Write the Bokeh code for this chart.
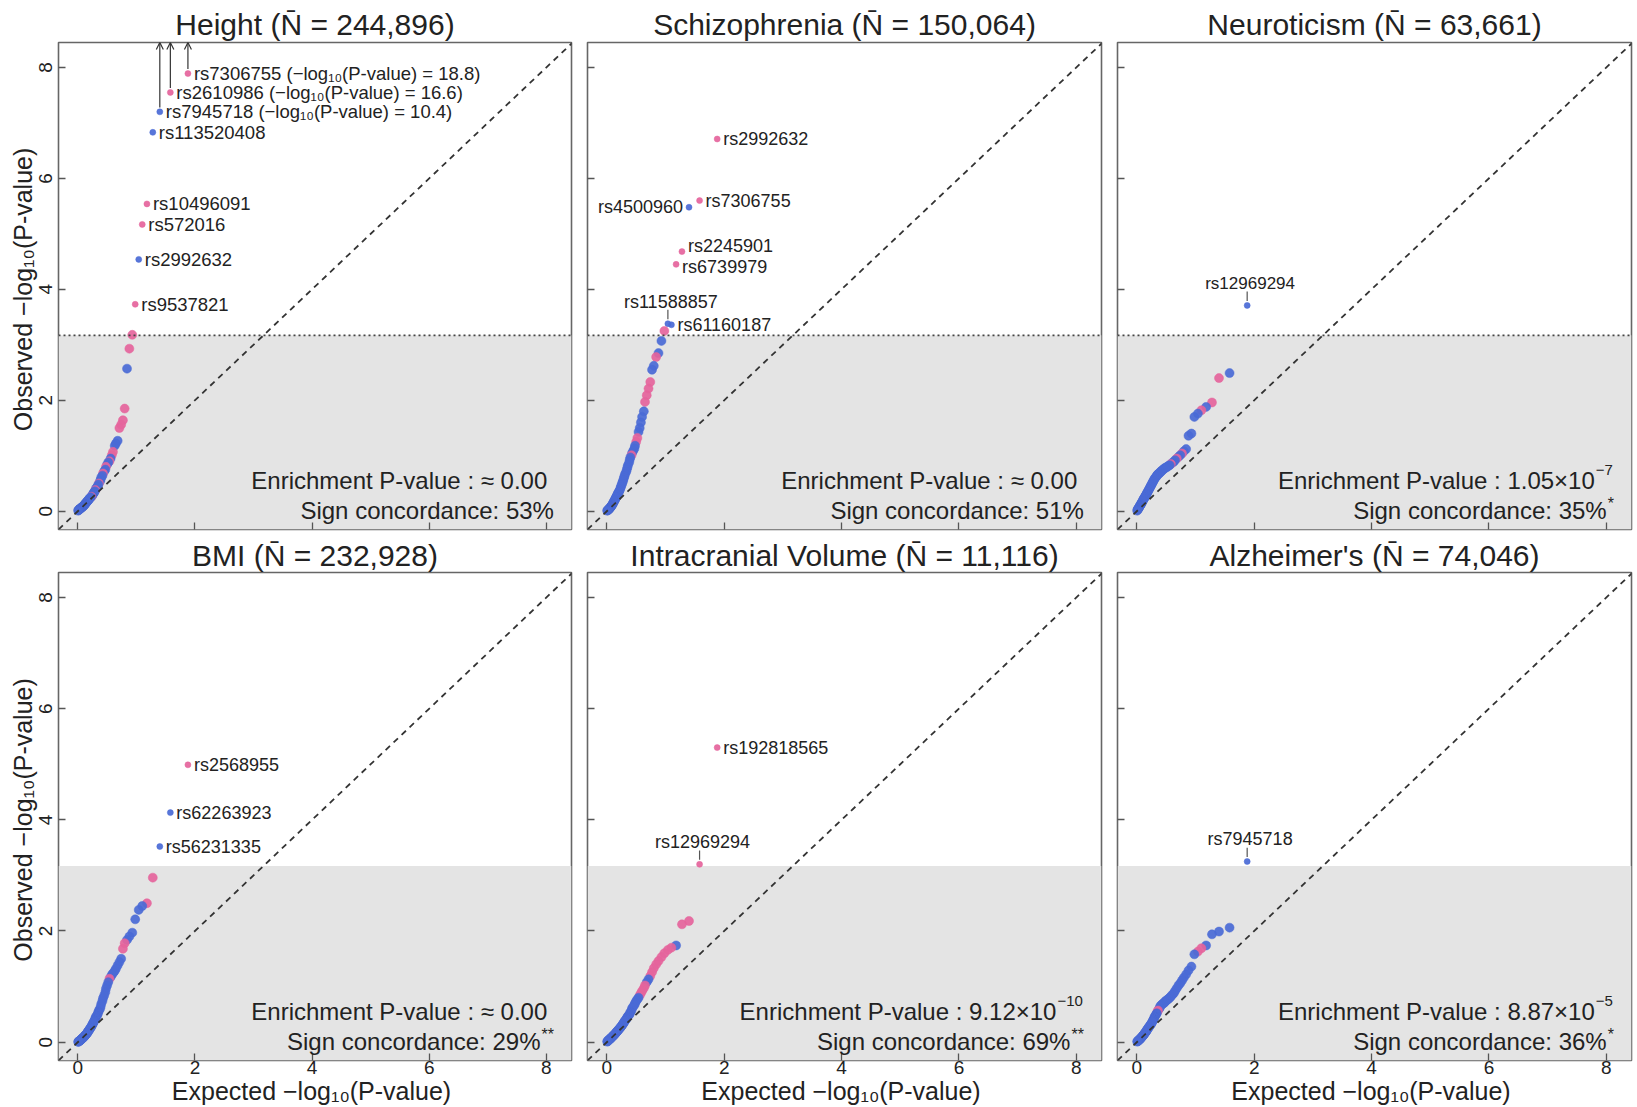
from bokeh.plotting import figure
from bokeh.layouts import column, row
from bokeh.models import (ColumnDataSource, FixedTicker, BoxAnnotation, Span, Slope,
                          Label, Range1d, Arrow, OpenHead)
from bokeh.embed import file_html
from bokeh.resources import INLINE
from bokeh.core.properties import value

FONT = "Liberation Sans"
PINK = "#E5649C"
BLUE = "#4A6AD6"
INK = "#222222"

# ---------------- data ----------------
expected = [1.88, 1.58, 1.40, 1.28, 1.18, 1.10, 1.04, 0.98, 0.93, 0.88,
            0.84, 0.80, 0.77, 0.74, 0.71, 0.68, 0.65, 0.63, 0.60, 0.58,
            0.56, 0.54, 0.52, 0.50, 0.48, 0.47, 0.45, 0.43, 0.42, 0.40,
            0.39, 0.38, 0.36, 0.35, 0.34, 0.33, 0.31, 0.30, 0.29, 0.28,
            0.27, 0.26, 0.25, 0.24, 0.23, 0.22, 0.21, 0.20, 0.19, 0.18,
            0.17, 0.165, 0.157, 0.148, 0.14, 0.133, 0.125, 0.117, 0.11, 0.103,
            0.095, 0.088, 0.081, 0.075, 0.068, 0.061, 0.055, 0.048, 0.042, 0.036,
            0.03, 0.023, 0.017, 0.012, 0.006]

TAIL = "BBBBBBBBBBBBBBBBBBBBBBBBBBBBBB"

height_obs = [7.89, 7.55, 7.20, 6.83, 5.54, 5.17, 4.54, 3.73, 3.18, 2.93,
              2.57, 1.85, 1.64, 1.56, 1.50, 1.27, 1.22, 1.18, 1.07, 1.01,
              0.95, 0.90, 0.88, 0.84, 0.80, 0.75, 0.72, 0.68, 0.64, 0.61,
              0.57, 0.54, 0.50, 0.48, 0.45, 0.43, 0.41, 0.38, 0.36, 0.34,
              0.33, 0.31, 0.29, 0.27, 0.26, 0.25, 0.24, 0.23, 0.21, 0.20,
              0.19, 0.18, 0.17, 0.16, 0.15, 0.14, 0.13, 0.12, 0.11, 0.10,
              0.095, 0.09, 0.08, 0.075, 0.07, 0.065, 0.06, 0.05, 0.045, 0.04,
              0.035, 0.03, 0.025, 0.02, 0.01]
height_cols = "PPBBPPBPPPBPPPPBBBPPBPBBPBBPBB" + "BBPBBBBPBBBBBBP" + TAIL
height_labels = ["rs7306755", "rs2610986", "rs7945718", "rs113520408",
                 "rs10496091", "rs572016", "rs2992632", "rs9537821"]
height_modes = ["r", "r", "r", "r", "r", "r", "r", "r"]
height_true = [18.8, 16.6, 10.4]

scz_obs = [6.71, 5.60, 5.48, 4.68, 4.45, 3.36, 3.38, 3.25, 3.07, 2.85,
           2.78, 2.62, 2.55, 2.33, 2.21, 2.09, 1.97, 1.80, 1.70, 1.60,
           1.50, 1.43, 1.32, 1.25, 1.18, 1.13, 1.09, 1.05, 1.01, 0.97,
           0.93, 0.88, 0.83, 0.79, 0.75, 0.71, 0.67, 0.63, 0.60, 0.56,
           0.53, 0.50, 0.47, 0.44, 0.41, 0.38, 0.36, 0.34, 0.32, 0.30,
           0.28, 0.26, 0.25, 0.23, 0.21, 0.20, 0.18, 0.17, 0.15, 0.14,
           0.12, 0.11, 0.10, 0.09, 0.08, 0.07, 0.06, 0.05, 0.045, 0.04,
           0.03, 0.025, 0.02, 0.015, 0.01]
scz_cols = "PPBPPBBPBBPBBPPPPBBBBBPPBBBBPB" + "BBBBBBBBBBBBBBB" + TAIL
scz_labels = ["rs2992632", "rs7306755", "rs4500960", "rs2245901",
              "rs6739979", "rs61160187", "rs11588857"]
scz_modes = ["r", "r", "l", "r", "r", "r", "a"]

neuro_obs = [3.71, 2.49, 2.40, 1.96, 1.88, 1.82, 1.76, 1.70, 1.40, 1.36,
             1.12, 1.08, 1.04, 1.01, 0.98, 0.95, 0.92, 0.89, 0.87, 0.85,
             0.83, 0.82, 0.80, 0.79, 0.78, 0.77, 0.75, 0.74, 0.72, 0.71,
             0.69, 0.68, 0.67, 0.655, 0.64, 0.62, 0.60, 0.58, 0.56, 0.54,
             0.52, 0.50, 0.48, 0.46, 0.44, 0.42, 0.40, 0.38, 0.36, 0.34,
             0.32, 0.31, 0.29, 0.28, 0.26, 0.25, 0.23, 0.22, 0.21, 0.19,
             0.18, 0.16, 0.15, 0.14, 0.12, 0.11, 0.10, 0.09, 0.08, 0.065,
             0.055, 0.045, 0.035, 0.025, 0.01]
neuro_cols = "BBPPBPBBBBBBPBBPBBBPBBBBBBBBBB" + "BBBBBBBBBBBBBBB" + TAIL
neuro_labels = ["rs12969294"]
neuro_modes = ["a"]

bmi_obs = [4.99, 4.13, 3.52, 2.96, 2.50, 2.45, 2.38, 2.21, 1.97, 1.90,
           1.84, 1.78, 1.68, 1.50, 1.44, 1.38, 1.32, 1.28, 1.24, 1.21,
           1.17, 1.14, 1.08, 1.02, 0.96, 0.90, 0.84, 0.79, 0.74, 0.69,
           0.64, 0.60, 0.57, 0.54, 0.51, 0.48, 0.46, 0.43, 0.40, 0.38,
           0.36, 0.34, 0.32, 0.30, 0.28, 0.26, 0.25, 0.23, 0.21, 0.20,
           0.19, 0.17, 0.16, 0.15, 0.14, 0.13, 0.12, 0.11, 0.10, 0.09,
           0.085, 0.08, 0.07, 0.065, 0.06, 0.05, 0.045, 0.04, 0.035, 0.03,
           0.025, 0.02, 0.015, 0.01, 0.005]
bmi_cols = "PBBPPBBBBBBPPBBBBBBBBPBBBBBBBB" + "BBBBBBBBBBBBBBB" + TAIL
bmi_labels = ["rs2568955", "rs62263923", "rs56231335"]
bmi_modes = ["r", "r", "r"]

icv_obs = [5.30, 3.20, 2.18, 2.12, 1.74, 1.70, 1.66, 1.60, 1.53, 1.46,
           1.40, 1.33, 1.26, 1.19, 1.13, 1.08, 1.02, 0.97, 0.92, 0.88,
           0.84, 0.80, 0.77, 0.74, 0.70, 0.67, 0.64, 0.61, 0.57, 0.54,
           0.51, 0.49, 0.47, 0.45, 0.43, 0.41, 0.39, 0.37, 0.35, 0.335,
           0.32, 0.305, 0.29, 0.275, 0.26, 0.25, 0.24, 0.225, 0.21, 0.20,
           0.19, 0.18, 0.17, 0.16, 0.15, 0.14, 0.13, 0.125, 0.115, 0.11,
           0.10, 0.095, 0.085, 0.08, 0.07, 0.065, 0.06, 0.05, 0.045, 0.04,
           0.035, 0.03, 0.02, 0.015, 0.01]
icv_cols = "PPPPBPPPPPPPPPBBPPPPPBBBBBBBBB" + "BBBBBBBBBBBBBBB" + TAIL
icv_labels = ["rs192818565", "rs12969294"]
icv_modes = ["r", "a"]

alz_obs = [3.25, 2.06, 1.99, 1.94, 1.74, 1.69, 1.63, 1.58, 1.36, 1.29,
           1.22, 1.16, 1.11, 1.06, 1.02, 0.97, 0.92, 0.88, 0.85, 0.82,
           0.80, 0.78, 0.76, 0.75, 0.73, 0.71, 0.70, 0.68, 0.67, 0.65,
           0.62, 0.60, 0.57, 0.55, 0.52, 0.50, 0.47, 0.45, 0.42, 0.40,
           0.38, 0.36, 0.34, 0.32, 0.31, 0.29, 0.28, 0.26, 0.25, 0.23,
           0.22, 0.20, 0.19, 0.18, 0.17, 0.155, 0.145, 0.135, 0.125, 0.115,
           0.105, 0.095, 0.09, 0.08, 0.07, 0.065, 0.055, 0.05, 0.045, 0.04,
           0.03, 0.025, 0.02, 0.015, 0.01]
alz_cols = "BBBBBPPBBBBBBBBBBBBBBBBBBBBBBB" + "BBPPBBBBBBBBBBB" + TAIL
alz_labels = ["rs7945718"]
alz_modes = ["a"]

titles = ["Height (N\u0304 = 244,896)", "Schizophrenia (N\u0304 = 150,064)",
          "Neuroticism (N\u0304 = 63,661)", "BMI (N\u0304 = 232,928)",
          "Intracranial Volume (N\u0304 = 11,116)", "Alzheimer's (N\u0304 = 74,046)"]
enrich_main = ["Enrichment P-value :  \u2248 0.00", "Enrichment P-value :  \u2248 0.00",
               "Enrichment P-value : 1.05\u00d710", "Enrichment P-value :  \u2248 0.00",
               "Enrichment P-value : 9.12\u00d710", "Enrichment P-value : 8.87\u00d710"]
enrich_exp = ["", "", "\u22127", "", "\u221210", "\u22125"]
sign_main = ["Sign concordance: 53%", "Sign concordance: 51%", "Sign concordance: 35%",
             "Sign concordance: 29%", "Sign concordance: 69%", "Sign concordance: 36%"]
sign_stars = ["", "", "*", "**", "**", "*"]

ticks = [0, 2, 4, 6, 8]
THRESH = 3.17
XR = (-0.33, 8.43)
YR = (-0.33, 8.45)

obs_list = [height_obs, scz_obs, neuro_obs, bmi_obs, icv_obs, alz_obs]
col_list = [height_cols, scz_cols, neuro_cols, bmi_cols, icv_cols, alz_cols]
lab_list = [height_labels, scz_labels, neuro_labels, bmi_labels, icv_labels, alz_labels]
mode_list = [height_modes, scz_modes, neuro_modes, bmi_modes, icv_modes, alz_modes]
lab_sizes = ["18.5px", "18px", "17px", "18px", "18px", "18px"]
# small vertical nudges (data units) to keep close labels apart, as in the original
LABEL_NUDGE = {"rs2245901": 0.10, "rs6739979": -0.04}

widths = [579, 530, 528]
heights = [535, 572]
borders_lr = [(58, 8), (8, 8), (8, 6)]
borders_tb = [(42, 6), (37, 46)]

# approximate glyph advance widths (em) for sizing raised text
ADV = {"\u2212": 0.584, "*": 0.389}


def text_width(s, px):
    return sum(ADV.get(ch, 0.556) for ch in s) * px


def make_panel(k):
    r, c = divmod(k, 3)
    p = figure(width=widths[c], height=heights[r],
               x_range=Range1d(*XR), y_range=Range1d(*YR),
               output_backend="svg", toolbar_location=None,
               min_border_left=borders_lr[c][0], min_border_right=borders_lr[c][1],
               min_border_top=borders_tb[r][0], min_border_bottom=borders_tb[r][1],
               title=titles[k])
    p.background_fill_color = "white"
    p.border_fill_color = "white"
    p.grid.visible = False
    p.outline_line_color = "#666666"
    p.outline_line_width = 1.6

    p.title.align = "center"
    p.title.text_font = FONT
    p.title.text_font_size = "30px"
    p.title.text_font_style = "normal"
    p.title.text_color = INK
    p.title.standoff = 4 if r == 0 else 2

    for ax in (p.xaxis[0], p.yaxis[0]):
        ax.ticker = FixedTicker(ticks=ticks)
        ax.axis_line_color = None
        ax.major_tick_in = 7
        ax.major_tick_out = 0
        ax.major_tick_line_color = "#555555"
        ax.major_tick_line_width = 1.3
        ax.minor_tick_line_color = None
        ax.major_label_text_font = FONT
        ax.major_label_text_font_size = "19px"
        ax.major_label_text_color = INK
        ax.axis_label_text_font = FONT
        ax.axis_label_text_font_size = "25px"
        ax.axis_label_text_font_style = "normal"
        ax.axis_label_text_color = INK

    xa, ya = p.xaxis[0], p.yaxis[0]
    if r == 1:
        xa.axis_label = "Expected  \u2212log\u2081\u2080(P-value)"
        xa.major_label_standoff = 0
        xa.axis_label_standoff = 0
    else:
        xa.major_label_overrides = {t: "" for t in ticks}
        xa.major_label_text_font_size = "1px"
        xa.major_label_standoff = 0
    if c == 0:
        ya.axis_label = "Observed  \u2212log\u2081\u2080(P-value)"
        ya.major_label_orientation = "vertical"
        ya.major_label_standoff = 6
        ya.axis_label_standoff = 0
    else:
        ya.major_label_overrides = {t: "" for t in ticks}
        ya.major_label_text_font_size = "1px"
        ya.major_label_standoff = 0

    # shaded non-significant region, threshold line, diagonal
    p.add_layout(BoxAnnotation(top=THRESH, fill_color="#E4E4E4", fill_alpha=1.0,
                               line_color=None, level="underlay"))
    if r == 0:
        p.add_layout(Span(location=THRESH, dimension="width", line_color="#444444",
                          line_dash="2 3", line_width=1.6))
    p.add_layout(Slope(gradient=1, y_intercept=0, line_color="#333333",
                       line_dash="6 5", line_width=1.8))

    obs = obs_list[k]
    cols = col_list[k]
    labels = lab_list[k]
    modes = mode_list[k]
    nlab = len(labels)
    src = ColumnDataSource(dict(
        x=expected, y=obs,
        color=[PINK if ch == "P" else BLUE for ch in cols],
        size=[6 if i < nlab else 9 for i in range(len(obs))],
    ))
    p.scatter(x="x", y="y", size="size", fill_color="color", line_color="color",
              fill_alpha=0.92, line_alpha=0.5, source=src)

    # labels
    groups = {"r": dict(x=[], y=[], t=[]), "l": dict(x=[], y=[], t=[]), "a": dict(x=[], y=[], t=[])}
    seg = dict(x0=[], y0=[], x1=[], y1=[])
    for i, (name, m) in enumerate(zip(labels, modes)):
        xv, yv = expected[i], obs[i]
        txt = name
        if k == 0 and i < len(height_true):
            txt = f"{name} (\u2212log\u2081\u2080(P-value) = {height_true[i]})"
            p.add_layout(Arrow(end=OpenHead(size=7, line_color="#333333", line_width=1.2),
                               x_start=xv, y_start=yv + 0.08, x_end=xv, y_end=YR[1],
                               line_color="#333333", line_width=1.2))
        if m == "a":
            groups[m]["x"].append(xv + 0.05)
            groups[m]["y"].append(yv + 0.40)
            seg["x0"].append(xv)
            seg["x1"].append(xv)
            seg["y0"].append(yv + 0.08)
            seg["y1"].append(yv + 0.25)
        else:
            groups[m]["x"].append(xv)
            groups[m]["y"].append(yv + LABEL_NUDGE.get(name, 0.0))
        groups[m]["t"].append(txt)

    common = dict(text_font=value(FONT), text_font_size=lab_sizes[k], text_color=INK,
                  text_baseline="middle")
    if groups["r"]["t"]:
        p.text(x=groups["r"]["x"], y=groups["r"]["y"], text=groups["r"]["t"],
               x_offset=6, text_align="left", **common)
    if groups["l"]["t"]:
        p.text(x=groups["l"]["x"], y=groups["l"]["y"], text=groups["l"]["t"],
               x_offset=-6, text_align="right", **common)
    if groups["a"]["t"]:
        p.text(x=groups["a"]["x"], y=groups["a"]["y"], text=groups["a"]["t"],
               text_align="center", **common)
        p.segment(x0=seg["x0"], y0=seg["y0"], x1=seg["x1"], y1=seg["y1"],
                  line_color="#555555", line_width=1.2)

    # enrichment / concordance text with raised exponents
    xr = XR[1] - 0.30
    y1 = YR[0] + 0.88
    y2 = YR[0] + 0.35
    ew = text_width(enrich_exp[k], 15) + (2 if enrich_exp[k] else 0)
    sw = text_width(sign_stars[k], 16) + (1 if sign_stars[k] else 0)
    p.add_layout(Label(x=xr, y=y1, x_offset=-ew, text=enrich_main[k],
                       text_align="right", text_baseline="middle", text_font=FONT,
                       text_font_size="24px", text_color=INK))
    if enrich_exp[k]:
        p.add_layout(Label(x=xr, y=y1 + 0.19, x_offset=-ew + 1, text=enrich_exp[k],
                           text_align="left", text_baseline="middle", text_font=FONT,
                           text_font_size="15px", text_color=INK))
    p.add_layout(Label(x=xr, y=y2, x_offset=-sw, text=sign_main[k],
                       text_align="right", text_baseline="middle", text_font=FONT,
                       text_font_size="24px", text_color=INK))
    if sign_stars[k]:
        p.add_layout(Label(x=xr, y=y2 + 0.12, x_offset=-sw + 1, text=sign_stars[k],
                           text_align="left", text_baseline="middle", text_font=FONT,
                           text_font_size="16px", text_color=INK))
    return p


plots = [make_panel(k) for k in range(6)]
layout = column(row(*plots[:3]), row(*plots[3:]))

open("out.html", "w").write(file_html(layout, INLINE))
